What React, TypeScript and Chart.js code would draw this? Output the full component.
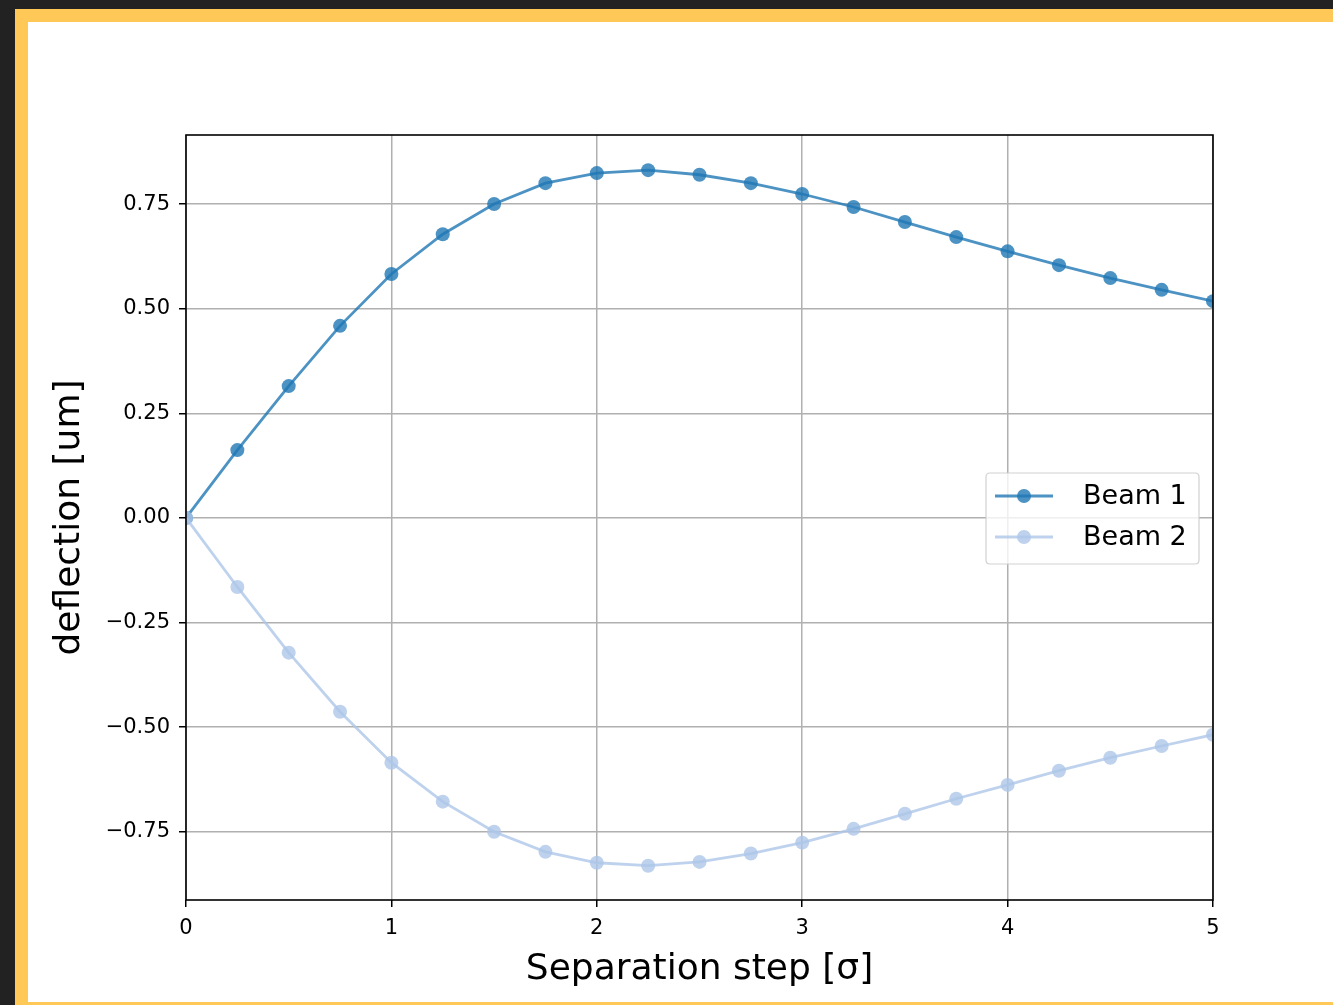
import React, { useEffect, useRef } from "react";
import { Chart, registerables } from "chart.js";

Chart.register(...registerables);

const X_VALUES = [0, 0.25, 0.5, 0.75, 1, 1.25, 1.5, 1.75, 2, 2.25, 2.5, 2.75, 3, 3.25, 3.5, 3.75, 4, 4.25, 4.5, 4.75, 5];
const BEAM1 = [0, 0.162, 0.315, 0.459, 0.583, 0.678, 0.75, 0.8, 0.824, 0.831, 0.82, 0.8, 0.774, 0.743, 0.707, 0.671, 0.637, 0.604, 0.573, 0.545, 0.518];
const BEAM2 = [0, -0.165, -0.322, -0.463, -0.585, -0.678, -0.75, -0.798, -0.824, -0.831, -0.822, -0.802, -0.776, -0.743, -0.707, -0.671, -0.638, -0.604, -0.573, -0.545, -0.518];
const SERIES_NAMES = ["Beam 1", "Beam 2"];
const Y_TICKS = [-0.75, -0.5, -0.25, 0, 0.25, 0.5, 0.75];
const X_TICKS = [0, 1, 2, 3, 4, 5];
const X_TITLE = "Separation step [σ]";
const Y_TITLE = "deflection [um]";

const COLORS = ["rgba(31,119,180,0.8)", "rgba(174,199,232,0.8)"];
const FONT = "'DejaVu Sans', sans-serif";

const frameAndLegend = {
  id: "frameAndLegend",
  afterDatasetsDraw(chart: any) {
    const ctx = chart.ctx;
    const a = chart.chartArea;
    ctx.save();
    ctx.strokeStyle = "#000";
    ctx.lineWidth = 1.6;
    ctx.strokeRect(a.left, a.top, a.right - a.left, a.bottom - a.top);
    const w = 213, h = 91;
    const lx = a.right - 14 - w;
    const cy = (a.top + a.bottom) / 2 + 1;
    const ly = cy - h / 2;
    const r = 4;
    ctx.beginPath();
    ctx.moveTo(lx + r, ly);
    ctx.lineTo(lx + w - r, ly);
    ctx.quadraticCurveTo(lx + w, ly, lx + w, ly + r);
    ctx.lineTo(lx + w, ly + h - r);
    ctx.quadraticCurveTo(lx + w, ly + h, lx + w - r, ly + h);
    ctx.lineTo(lx + r, ly + h);
    ctx.quadraticCurveTo(lx, ly + h, lx, ly + h - r);
    ctx.lineTo(lx, ly + r);
    ctx.quadraticCurveTo(lx, ly, lx + r, ly);
    ctx.closePath();
    ctx.fillStyle = "rgba(255,255,255,0.8)";
    ctx.fill();
    ctx.strokeStyle = "rgba(204,204,204,0.9)";
    ctx.lineWidth = 1.2;
    ctx.stroke();
    SERIES_NAMES.forEach((name, i) => {
      const y = ly + 23 + i * 41;
      ctx.strokeStyle = COLORS[i];
      ctx.lineWidth = 2.8;
      ctx.beginPath();
      ctx.moveTo(lx + 9, y);
      ctx.lineTo(lx + 67, y);
      ctx.stroke();
      ctx.fillStyle = COLORS[i];
      ctx.beginPath();
      ctx.arc(lx + 38, y, 7, 0, Math.PI * 2);
      ctx.fill();
      ctx.fillStyle = "#000";
      ctx.font = `27px ${FONT}`;
      ctx.textBaseline = "middle";
      ctx.textAlign = "left";
      ctx.fillText(name, lx + 97, y + 1);
    });
    ctx.restore();
  },
};

export default function App() {
  const ref = useRef<HTMLCanvasElement | null>(null);
  useEffect(() => {
    if (!ref.current) return;
    const mk = (ys: number[]) => X_VALUES.map((x, i) => ({ x, y: ys[i] }));
    const chart = new Chart(ref.current, {
      type: "line",
      data: {
        datasets: [BEAM1, BEAM2].map((ys, i) => ({
          label: SERIES_NAMES[i],
          data: mk(ys),
          borderColor: COLORS[i],
          backgroundColor: COLORS[i],
          pointBackgroundColor: COLORS[i],
          pointBorderWidth: 0,
          pointRadius: 7,
          borderWidth: 2.8,
          tension: 0,
          clip: 0,
          order: i === 0 ? 1 : 0,
        })) as any,
      },
      options: {
        animation: false,
        responsive: false,
        devicePixelRatio: 1,
        layout: { padding: { left: 0, right: 120, top: 113, bottom: 0 } },
        plugins: { legend: { display: false }, tooltip: { enabled: false } },
        scales: {
          x: {
            type: "linear",
            min: 0,
            max: 5,
            afterBuildTicks: (s: any) => {
              s.ticks = X_TICKS.map((value) => ({ value }));
            },
            afterFit: (s: any) => {
              s.height = 102;
            },
            ticks: {
              font: { family: FONT, size: 21 },
              color: "#000",
              padding: 9,
              maxRotation: 0,
              callback: (v: any) => String(v),
            },
            grid: { color: "#b0b0b0", lineWidth: 1.5, tickColor: "#000", tickLength: 7, tickWidth: 1.5 },
            border: { display: false },
            title: {
              display: true,
              text: X_TITLE,
              font: { family: FONT, size: 36 },
              color: "#000",
              padding: { top: 0, bottom: 11 },
            },
          },
          y: {
            type: "linear",
            min: -0.913,
            max: 0.915,
            afterBuildTicks: (s: any) => {
              s.ticks = Y_TICKS.map((value) => ({ value }));
            },
            afterFit: (s: any) => {
              s.width = 158;
            },
            ticks: {
              font: { family: FONT, size: 21 },
              color: "#000",
              padding: 9,
              callback: (v: any) => (v < 0 ? "\u2212" + Math.abs(v).toFixed(2) : Number(v).toFixed(2)),
            },
            grid: { color: "#b0b0b0", lineWidth: 1.5, tickColor: "#000", tickLength: 7, tickWidth: 1.5 },
            border: { display: false },
            title: {
              display: true,
              text: Y_TITLE,
              font: { family: FONT, size: 36 },
              color: "#000",
              padding: { top: 20, bottom: 0 },
            },
          },
        },
      },
      plugins: [frameAndLegend],
    });
    return () => chart.destroy();
  }, []);

  return (
    <div style={{ position: "fixed", left: 0, top: 0, width: 1333, height: 1005, background: "#222222", overflow: "hidden" }}>
      <div style={{ position: "absolute", left: 15, top: 9, right: 0, bottom: 0, background: "#FFC857" }} />
      <div style={{ position: "absolute", left: 28, top: 22, width: 1305, height: 980, background: "#ffffff" }}>
        <canvas ref={ref} width={1305} height={980} style={{ display: "block", width: 1305, height: 980 }} />
      </div>
    </div>
  );
}
